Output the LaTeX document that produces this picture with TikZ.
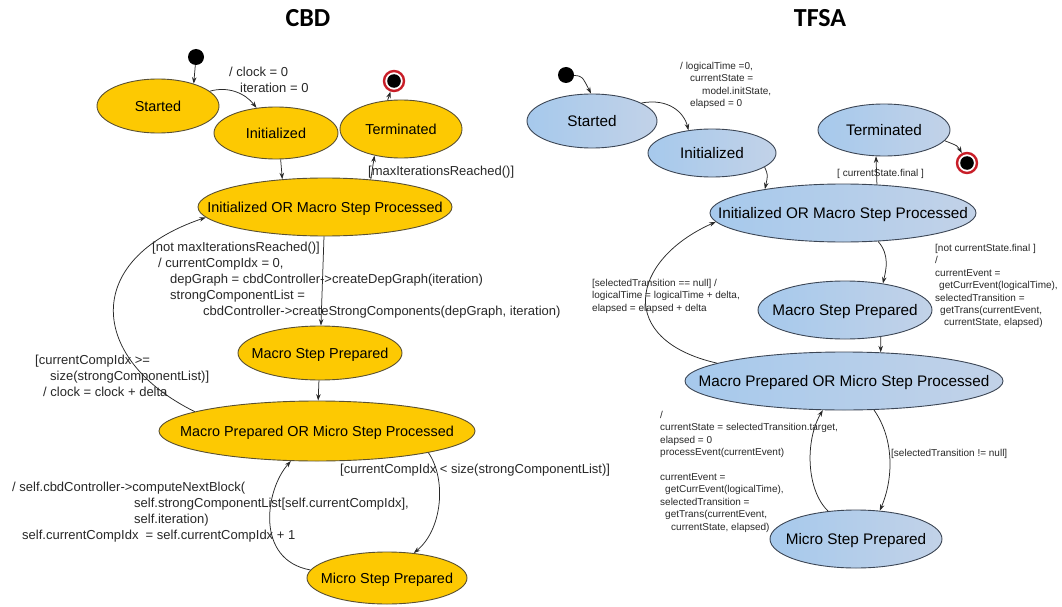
\documentclass[tikz,border=0pt]{standalone}
\usepackage{fontspec}
\setmainfont{Liberation Sans}
\newfontfamily\titlefont{Carlito}
\usetikzlibrary{shapes.geometric,arrows.meta}
\definecolor{cbdgold}{RGB}{253,201,2}
\definecolor{cbdedge}{RGB}{90,80,50}
\definecolor{tfsaleft}{RGB}{166,201,236}
\definecolor{tfsaright}{RGB}{194,210,232}
\definecolor{tfsaedge}{RGB}{60,70,85}
\definecolor{finalred}{RGB}{200,30,40}
\definecolor{wire}{RGB}{40,40,40}
\definecolor{labelgray}{RGB}{40,40,40}
% state text that does not widen its ellipse
\newcommand\stx[1]{\makebox[0pt]{\raisebox{-0.35em}[0pt][0pt]{#1}}}

\begin{document}
\begin{tikzpicture}[x=1pt,y=-1pt,
  cbdstate/.style={ellipse, draw=cbdedge, line width=0.9pt, fill=cbdgold, inner sep=0pt,
    font=\fontsize{14.4}{16}\selectfont},
  tfsastate/.style={ellipse, draw=tfsaedge, line width=0.9pt, left color=tfsaleft,
    right color=tfsaright, inner sep=0pt, font=\fontsize{15.3}{17}\selectfont},
  initdot/.style={circle, fill=black, inner sep=0pt, minimum size=16pt},
  finaldot/.style={circle, draw=finalred, line width=2.4pt, fill=white, inner sep=0pt,
    minimum size=20pt,
    path picture={\fill[black] (path picture bounding box.center) circle (6.8pt);}},
  trans/.style={draw=wire, line width=0.75pt, -{Stealth[length=6.5pt,width=4.5pt]}},
  cbdlbl/.style={inner sep=0pt, align=left, text=labelgray, font=\fontsize{13}{16}\selectfont},
  tfsalbl/.style={inner sep=0pt, align=left, text=labelgray, font=\fontsize{10}{12.4}\selectfont},
  heading/.style={font=\titlefont\bfseries\fontsize{26}{30}\selectfont, inner sep=0pt}
]
\useasboundingbox (0,0) rectangle (1062,607);
\fill[white] (0,0) rectangle (1062,607);

% ---------- headings ----------
\node[heading] (cbdTitle) at (308,18) {CBD};
\node[heading] (tfsaTitle) at (820,18) {TFSA};

% ---------- CBD states ----------
\node[initdot] (cInit) at (196,57) {};
\node[cbdstate, minimum width=122pt, minimum height=54pt] (cStart) at (158,106) {\stx{Started}};
\node[cbdstate, minimum width=124pt, minimum height=52pt] (cInitd) at (276,133) {\stx{Initialized}};
\node[cbdstate, minimum width=122pt, minimum height=58pt] (cTerm) at (401,129) {\stx{Terminated}};
\node[finaldot] (cFinal) at (394,81) {};
\node[cbdstate, minimum width=254pt, minimum height=58pt] (cIomsp) at (325,207) {\stx{Initialized OR Macro Step Processed}};
\node[cbdstate, minimum width=164pt, minimum height=54pt] (cMsp) at (320,353) {\stx{Macro Step Prepared}};
\node[cbdstate, minimum width=316pt, minimum height=60pt] (cMpomsp) at (317,431) {\stx{Macro Prepared OR Micro Step Processed}};
\node[cbdstate, minimum width=160pt, minimum height=52pt] (cMicro) at (387,578) {\stx{Micro Step Prepared}};

% ---------- CBD transitions ----------
\draw[trans] (cInit) -- (cStart.32);
\draw[trans] (cStart) .. controls (228,86) and (245,93) .. (cInitd);
\draw[trans] (cInitd.-80) -- (cIomsp.147);
\draw[trans] (cIomsp.31) -- (cTerm.-135);
\draw[trans] (cTerm.115) -- (cFinal);
\draw[trans] (cIomsp) -- (cMsp);
\draw[trans] (cMsp) -- (cMpomsp);
\draw[trans] (cMpomsp.171) .. controls (90,360) and (80,260) .. (cIomsp.185);
\draw[trans] (cMpomsp.-11) .. controls (447,480) and (442,530) .. (cMicro.43);
\draw[trans] (cMicro.174) .. controls (255,560) and (265,490) .. (cMpomsp.229);

% ---------- CBD labels ----------
\node[cbdlbl, anchor=north west] (lClock) at (229,67)
  {/ clock = 0\\\hspace*{11pt}iteration = 0};
\node[cbdlbl, anchor=west] (lMaxIt) at (368,172) {[maxIterationsReached()]};
\node[cbdlbl, anchor=north west] (lNotMax) at (152,242)
  {[not maxIterationsReached()]\\
   \hspace*{6pt}/ currentCompIdx = 0,\\
   \hspace*{18pt}depGraph = cbdController->createDepGraph(iteration)\\
   \hspace*{18pt}strongComponentList =\\
   \hspace*{51pt}cbdController->createStrongComponents(depGraph, iteration)};
\node[cbdlbl, anchor=north west] (lClockDelta) at (35,355)
  {[currentCompIdx >=\\
   \hspace*{15pt}size(strongComponentList)]\\
   \hspace*{8pt}/ clock = clock + delta};
\node[cbdlbl, anchor=west] (lLess) at (340,470) {[currentCompIdx < size(strongComponentList)]};
\node[cbdlbl, anchor=north west] (lCompute) at (12,482)
  {/ self.cbdController->computeNextBlock(\\
   \hspace*{122pt}self.strongComponentList[self.currentCompIdx],\\
   \hspace*{122pt}self.iteration)\\
   \hspace*{10pt}self.currentCompIdx\ \ = self.currentCompIdx + 1};

% ---------- TFSA states ----------
\node[initdot] (tInit) at (566,75) {};
\node[tfsastate, minimum width=130pt, minimum height=54pt] (tStart) at (592,121) {\stx{Started}};
\node[tfsastate, minimum width=128pt, minimum height=48pt] (tInitd) at (712,153) {\stx{Initialized}};
\node[tfsastate, minimum width=132pt, minimum height=52pt] (tTerm) at (884,130) {\stx{Terminated}};
\node[finaldot] (tFinal) at (967,163) {};
\node[tfsastate, minimum width=266pt, minimum height=58pt] (tIomsp) at (843,213) {\stx{Initialized OR Macro Step Processed}};
\node[tfsastate, minimum width=174pt, minimum height=58pt] (tMsp) at (845,310) {\stx{Macro Step Prepared}};
\node[tfsastate, minimum width=318pt, minimum height=58pt] (tMpomsp) at (844,381) {\stx{Macro Prepared OR Micro Step Processed}};
\node[tfsastate, minimum width=172pt, minimum height=58pt] (tMicro) at (856,539) {\stx{Micro Step Prepared}};

% ---------- TFSA transitions ----------
\draw[trans] (tInit) .. controls (582,76) .. (tStart.92);
\draw[trans] (tStart.20) .. controls (668,98) and (684,112) .. (tInitd.136);
\draw[trans] (tInitd.-15) .. controls (768,175) .. (tIomsp.163);
\draw[trans] (tIomsp.40) -- (tTerm.-107);
\draw[trans] (tTerm.-10) .. controls (958,146) .. (tFinal);
\draw[trans] (tIomsp.-39) .. controls (890,255) and (886,270) .. (tMsp.35);
\draw[trans] (tMsp.-37) -- (tMpomsp.38);
\draw[trans] (tMpomsp.172) .. controls (615,340) and (630,260) .. (tIomsp.184);
\draw[trans] (tMpomsp.-44) .. controls (895,440) and (893,480) .. (tMicro.50);
\draw[trans] (tMicro.135) .. controls (806,490) and (805,440) .. (tMpomsp.234);

% ---------- TFSA labels ----------
\node[tfsalbl, anchor=north west] (lLogical) at (680,62)
  {/ logicalTime =0,\\
   \hspace*{10pt}currentState =\\
   \hspace*{22pt}model.initState,\\
   \hspace*{10pt}elapsed = 0};
\node[tfsalbl, anchor=west] (lFinal) at (837,174) {[ currentState.final ]};
\node[tfsalbl, anchor=north west] (lNotFinal) at (935,244)
  {[not currentState.final ]\\
   /\\
   currentEvent =\\
   \hspace*{4pt}getCurrEvent(logicalTime),\\
   selectedTransition =\\
   \hspace*{5pt}getTrans(currentEvent,\\
   \hspace*{9pt}currentState, elapsed)};
\node[tfsalbl, anchor=north west] (lNull) at (592,279)
  {[selectedTransition == null] /\\
   logicalTime = logicalTime + delta,\\
   elapsed = elapsed + delta};
\node[tfsalbl, anchor=west] (lNotNull) at (891,454) {[selectedTransition != null]};
\node[tfsalbl, anchor=north west] (lTarget) at (660,411)
  {/\\
   currentState = selectedTransition.target,\\
   elapsed = 0\\
   processEvent(currentEvent)\\
   \mbox{}\\
   currentEvent =\\
   \hspace*{5pt}getCurrEvent(logicalTime),\\
   selectedTransition =\\
   \hspace*{5pt}getTrans(currentEvent,\\
   \hspace*{11pt}currentState, elapsed)};
\end{tikzpicture}
\end{document}
